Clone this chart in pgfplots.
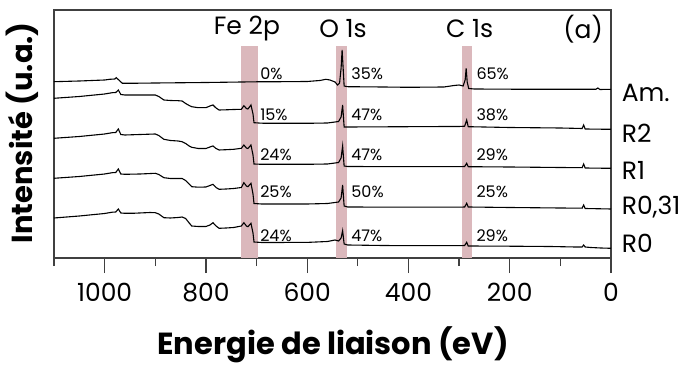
\documentclass[border=0pt]{standalone}
\usepackage{fontspec}
\setmainfont{Poppins}
\usepackage{pgfplots}
\usepackage{pgfplotstable}
\pgfplotsset{compat=1.18}
\definecolor{band}{RGB}{219,184,188}
\definecolor{frame}{RGB}{64,64,64}

% energy (eV)  intensity (offset, a.u.)
\pgfplotstableread{
E I
1100 176.3
1050 177
1000 178
990 178.7
980 179
977 180.3
972 178
965 174.7
950 174.7
900 175
800 175.5
700 176.2
650 176.3
600 176.5
575 177.5
563 178.7
555 178
545 176
540 173
536 175
533 190
531 208
529 190
527 172
520 171.3
450 171
400 170.7
330 171
310 172.5
300 173
292 172
288 178
286 189.7
284 176
281 169.5
270 169
200 168.8
100 168.7
30 168.7
26 170
22 168.5
0 168.7
}\amorphe

\pgfplotstableread{
E I
1100 159.7
1050 161.5
1000 164
985 165.3
978 165.5
973 168
968 163.5
960 163
930 163
900 163
893 161.5
883 158
870 157.5
855 157.3
847 157
840 154.5
833 152.5
828 151.3
815 150.3
800 150.3
792 152
786 153
780 150
774 148
760 148.2
745 148.5
730 148.7
725 152.3
720 149.5
717 149
711 153
707 144
705 135.3
690 134.8
600 134.7
560 135
545 136
538 136.5
533 141
530 153
527 131
520 131
400 131.3
320 131.5
300 131.5
289 131.8
285 138
282 131.3
200 130.5
100 130
57 129.5
54 133
51 129
20 128.8
0 128.7
}\rdeux

\pgfplotstableread{
E I
1100 119.7
1050 121.5
1000 124
985 125.3
978 125.5
973 129
968 123.5
960 123
930 123.5
900 124
893 122.5
883 118.7
870 117.5
855 117
847 116.3
840 114.5
833 112
828 110.7
815 109.5
800 109.5
792 111
786 112
780 109.5
774 108
760 108.3
745 108.7
730 109.7
725 113
720 110
717 109.5
711 113
707 103
705 94
690 93.7
600 93.7
560 94
545 95
538 95.5
533 100
530 112
527 92
520 91.5
400 91.3
300 91.3
289 91.5
285 94.7
282 91.3
200 91
100 90.5
57 90.3
54 94
51 90
20 89.8
0 89.7
}\run

\pgfplotstableread{
E I
1100 79.7
1050 81.5
1000 84
985 85.3
978 85.5
973 89
968 84
960 83.7
930 84
900 84.7
893 83.5
883 80.3
870 79.5
855 79.5
847 79.5
840 77.5
833 74
828 71.3
815 70.8
800 71
792 72.5
786 73.7
780 70.5
774 68.7
760 69
745 69.5
730 70.5
725 75.3
720 72
717 71.3
711 74.7
707 64
705 54.5
690 54
600 54
560 54.5
545 55.5
538 56
533 60
530 73
527 52
520 51
400 50.8
300 50.8
289 51
285 54.7
282 51
200 50.5
100 50
57 49.8
54 53
51 49.5
20 49.2
0 49
}\rzerotrenteun

\pgfplotstableread{
E I
1100 40
1050 42
1000 44.5
985 45.8
978 46
973 49
968 45
960 44.7
940 44.8
910 45.5
900 45.3
893 44
883 40.3
870 40
855 40.5
847 41
840 39.5
833 35
828 32
815 31.5
800 31.5
792 33
786 35.3
780 32
774 29.7
760 30
745 30.5
730 32
725 35.3
720 32
717 31.3
711 34.7
707 25
705 16
690 15.5
600 15.6
560 16.5
545 18
538 17
533 20
530 27.3
527 14
520 13
450 12.5
400 12.3
300 12.3
289 12.5
285 15.7
282 12
200 11.8
120 11.5
70 11
57 11
54 13
51 11
40 10.5
20 10
0 9.7
}\rzero

\begin{document}
\begin{tikzpicture}
\useasboundingbox (0,0) rectangle (686bp,370bp);
\begin{axis}[
  at={(54bp,112bp)}, anchor=south west,
  width=557bp, height=248bp, scale only axis,
  x dir=reverse,
  xmin=0, xmax=1100, ymin=0, ymax=248,
  xtick={0,200,...,1000},
  minor xtick={100,300,...,1100},
  xtick pos=bottom,
  ytick=\empty,
  tick align=outside,
  major tick length=15bp,
  minor tick length=8bp,
  axis line style={frame, line width=1.4bp},
  every tick/.style={frame, line width=1.2bp},
  /pgf/number format/assume math mode=true,
  /pgf/number format/1000 sep={},
  xticklabel style={font=\fontsize{25bp}{28bp}\selectfont, yshift=-7bp},
  xlabel={\bfseries Energie de liaison (eV)},
  xlabel style={font=\fontsize{30.5bp}{33bp}\selectfont, at={(axis description cs:0.501,-0.351)}, anchor=center},
  ylabel={\bfseries Intensité (u.a.)},
  ylabel style={font=\fontsize{29bp}{32bp}\selectfont, at={(axis description cs:-0.0575,0.505)}, anchor=center, rotate=0},
  clip=false,
]
% bandes des pics
\addplot[draw=none, fill=band] coordinates {(697,0) (697,212) (731,212) (731,0)};
\addplot[draw=none, fill=band] coordinates {(521,0) (521,212) (543,212) (543,0)};
\addplot[draw=none, fill=band] coordinates {(275,0) (275,212) (295,212) (295,0)};

\addplot[black, line width=1.1bp] table {\amorphe};
\addplot[black, line width=1.1bp] table {\rdeux};
\addplot[black, line width=1.1bp] table {\run};
\addplot[black, line width=1.1bp] table {\rzerotrenteun};
\addplot[black, line width=1.1bp] table {\rzero};

% titres des pics
\begin{scope}[every node/.style={font=\fontsize{25bp}{28bp}\selectfont, anchor=center}]
\node at (axis cs:719,229) {Fe 2p};
\node at (axis cs:529,229) {O 1s};
\node at (axis cs:279,229) {C 1s};
\node at (axis cs:55,229) {(a)};
\end{scope}

% pourcentages
\begin{scope}[every node/.style={font=\fontsize{16bp}{18bp}\selectfont, anchor=west, inner sep=0pt}]
\node at (axis cs:693,184.7) {0\%};
\node at (axis cs:693,143) {15\%};
\node at (axis cs:693,103) {24\%};
\node at (axis cs:693,66.3) {25\%};
\node at (axis cs:693,22) {24\%};
\node at (axis cs:513,184.7) {35\%};
\node at (axis cs:513,143) {47\%};
\node at (axis cs:513,103) {47\%};
\node at (axis cs:513,66.3) {50\%};
\node at (axis cs:513,22) {47\%};
\node at (axis cs:266,184.7) {65\%};
\node at (axis cs:266,143) {38\%};
\node at (axis cs:266,103) {29\%};
\node at (axis cs:266,66.3) {25\%};
\node at (axis cs:266,22) {29\%};
\end{scope}

% noms des echantillons
\begin{scope}[every node/.style={font=\fontsize{25bp}{28bp}\selectfont, anchor=west, inner sep=0pt}]
\node at (axis cs:-21,165) {Am.};
\node at (axis cs:-21,125) {R2};
\node at (axis cs:-21,88) {R1};
\node at (axis cs:-21,51.3) {R0,31};
\node at (axis cs:-21,15) {R0};
\end{scope}
\end{axis}
\end{tikzpicture}
\end{document}
